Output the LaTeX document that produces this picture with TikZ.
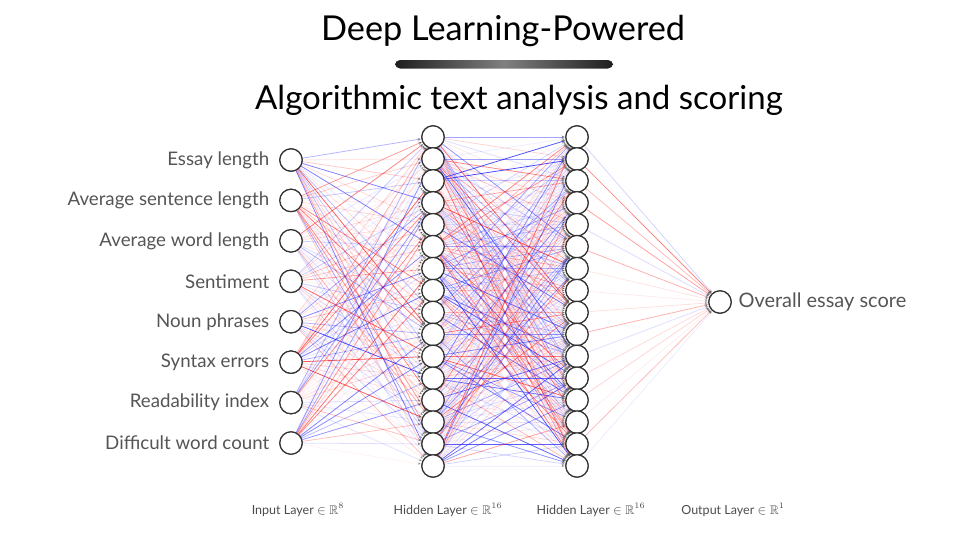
\documentclass[tikz,border=0pt]{standalone}
\usepackage{fontspec}
\setmainfont{Lato}
\usepackage{amssymb}
\usetikzlibrary{arrows.meta}

\definecolor{textogris}{HTML}{555555}
\definecolor{bordegris}{HTML}{333333}
\definecolor{pesorojo}{HTML}{FF1A1A}
\definecolor{pesoazul}{HTML}{1A1AFF}

% #1 = nodo origen, #2 = nodo destino (peso aleatorio)
\newcommand{\conexion}[2]{%
    \pgfmathsetmacro{\opac}{0.05+0.8*rnd*rnd}%
    \pgfmathtruncatemacro{\signo}{rnd<0.5}%
    \ifnum\signo=1 \def\tono{pesorojo}\else\def\tono{pesoazul}\fi
    \draw[enlace, draw=\tono, draw opacity=\opac] (#1) -- (#2);}

\begin{document}
\begin{tikzpicture}[x=0.25mm, y=-0.25mm,
    neurona/.style={circle, draw=bordegris, fill=white, line width=0.85pt,
        minimum size=5.6mm, inner sep=0pt},
    enlace/.style={line width=0.55pt,
        -{Stealth[length=3pt, width=2.4pt, color=bordegris!80]}},
    etiqueta/.style={text=textogris, font=\fontsize{13.3}{15}\selectfont},
    capa/.style={text=textogris!90!black, font=\fontsize{8.9}{10}\selectfont}]

    \useasboundingbox (0,0) rectangle (974,548);
    \pgfmathsetseed{4271}

    % titulos
    \node (titulo) at (503,31) {\fontsize{24.4}{29}\selectfont Deep Learning-Powered};
    \shade[left color=black!88, right color=black!88, middle color=black!50,
        rounded corners=3.5pt] (395,60) rectangle (613,68.5);
    \node (subtitulo) at (519,100) {\fontsize{23.5}{28}\selectfont Algorithmic text analysis and scoring};

    % neuronas
    \foreach \i/\nombre in {1/Essay length, 2/Average sentence length,
        3/Average word length, 4/Sentiment, 5/Noun phrases, 6/Syntax errors,
        7/Readability index, 8/Difficult word count} {
        \node[neurona] (in\i) at (291,{160+(\i-1)*40.43}) {};
        \node[etiqueta, anchor=east] (lab\i) at ([xshift=-4.2mm]in\i.center) {\nombre};
    }
    \foreach \j in {1,...,16} {
        \node[neurona] (ha\j) at (433,{137+(\j-1)*21.93}) {};
        \node[neurona] (hb\j) at (577,{137+(\j-1)*21.93}) {};
    }
    \node[neurona] (out) at (720,302) {};
    \node[etiqueta, anchor=west, font=\fontsize{14.2}{16}\selectfont] (labout)
        at ([xshift=3.4mm]out.center) {Overall essay score};

    % conexiones
    \foreach \i in {1,...,8} {
        \foreach \j in {1,...,16} {\conexion{in\i}{ha\j}}
    }
    \foreach \i in {1,...,16} {
        \foreach \j in {1,...,16} {\conexion{ha\i}{hb\j}}
    }
    \foreach \i in {1,...,16} {\conexion{hb\i}{out}}

    % se redibujan las neuronas encima de las lineas
    \foreach \i in {1,...,8} {\node[neurona] at (in\i) {};}
    \foreach \j in {1,...,16} {
        \node[neurona] at (ha\j) {};
        \node[neurona] at (hb\j) {};
    }
    \node[neurona] at (out) {};

    % nombres de las capas
    \node[capa] (capa1) at (298,510) {Input Layer $\in \mathbb{R}^{8}$};
    \node[capa] (capa2) at (448,510) {Hidden Layer $\in \mathbb{R}^{16}$};
    \node[capa] (capa3) at (591,510) {Hidden Layer $\in \mathbb{R}^{16}$};
    \node[capa] (capa4) at (733,510) {Output Layer $\in \mathbb{R}^{1}$};

\end{tikzpicture}
\end{document}
